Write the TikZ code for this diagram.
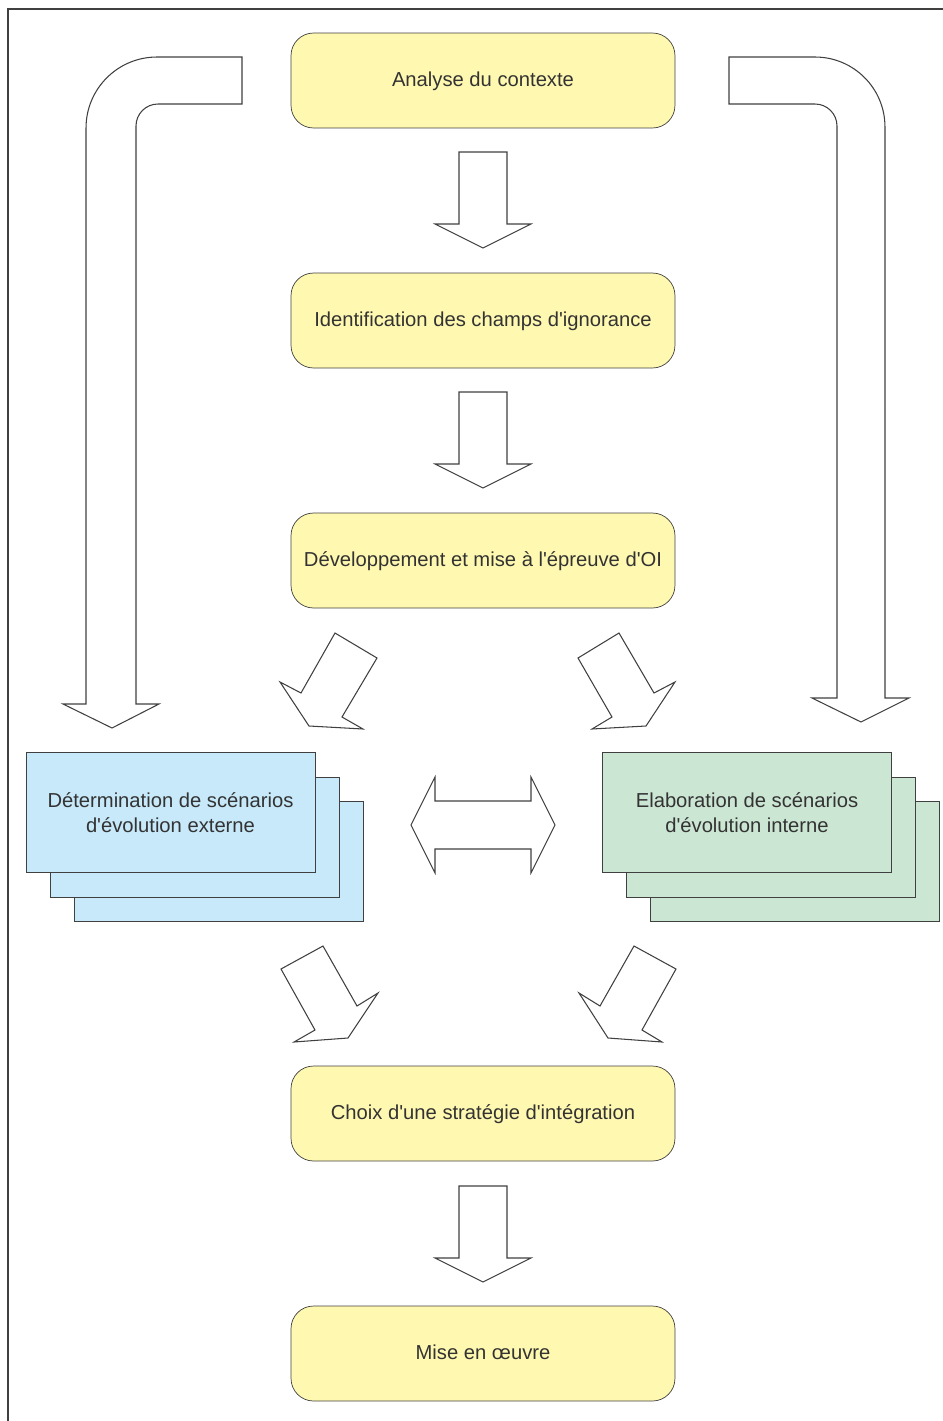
\documentclass[tikz,border=0pt]{standalone}
\usepackage{fontspec}
\setmainfont{Liberation Sans}
\usetikzlibrary{positioning}

\definecolor{stepYellow}{RGB}{255,248,176} % step boxes
\definecolor{extBlue}{RGB}{199,233,249}    % external scenarios
\definecolor{intGreen}{RGB}{204,230,212}   % internal scenarios
\definecolor{lineGray}{RGB}{64,64,64}
\definecolor{textGray}{RGB}{51,51,51}

\newcommand{\q}{\textquotesingle}

\begin{document}
\begin{tikzpicture}[x=0.02cm, y=-0.02cm, line join=miter]
  \useasboundingbox (0,0) rectangle (943,1421);

  \tikzset{
    stepbox/.style={
      draw=lineGray, fill=stepYellow, rounded corners=0.45cm,
      minimum width=7.68cm, minimum height=1.9cm, text=textGray,
      text height=0.91em, text depth=0.2em,
      font=\fontsize{11.5}{14}\selectfont, align=center
    },
    scenbox/.style={
      draw=lineGray, minimum width=5.78cm, minimum height=2.4cm,
      text=textGray, font=\fontsize{11.5}{14}\selectfont, align=center
    },
    blockarrow/.style={draw=lineGray, fill=white, line width=0.6pt}
  }

  % ==========================================
  % 1. FRAME
  % ==========================================
  \draw[lineGray, line width=1pt] (8,1421) -- (8,9) -- (943,9);

  % ==========================================
  % 2. MAIN STEPS
  % ==========================================
  \node[stepbox] (analyse)  at (483,80.5)   {Analyse du contexte};
  \node[stepbox] (ignor)    at (483,320.5)  {Identification des champs d\q ignorance};
  \node[stepbox] (devel)    at (483,560.5)  {Développement et mise à l\q épreuve d\q OI};
  \node[stepbox] (choix)    at (483,1113.5) {Choix d\q une stratégie d\q intégration};
  \node[stepbox] (oeuvre)   at (483,1353.5) {Mise en œuvre};

  % ==========================================
  % 3. SCENARIO STACKS (back to front)
  % ==========================================
  \node[scenbox, fill=extBlue] (extC) at (218.5,861) {};
  \node[scenbox, fill=extBlue] (extB) at (194.5,837) {};
  \node[scenbox, fill=extBlue] (ext)  at (170.5,812.5)
    {Détermination de scénarios\\d\q évolution externe};

  \node[scenbox, fill=intGreen] (intC) at (795,861) {};
  \node[scenbox, fill=intGreen] (intB) at (771,837) {};
  \node[scenbox, fill=intGreen] (int)  at (747,812.5)
    {Elaboration de scénarios\\d\q évolution interne};

  % ==========================================
  % 4. BLOCK ARROWS
  % ==========================================
  % straight arrows between steps
  \foreach \y in {152, 392, 1186} {
    \draw[blockarrow] (459,\y) -- (507,\y) -- (507,\y+72) -- (531,\y+72)
      -- (483,\y+96) -- (435,\y+72) -- (459,\y+72) -- cycle;
  }

  % diagonal arrows towards the scenarios
  \draw[blockarrow] (335,633) -- (377,658) -- (342,717) -- (363,729)
    -- (309,726) -- (280,682) -- (301,693) -- cycle;
  \draw[blockarrow] (619,633) -- (578,658) -- (612,717) -- (592,729)
    -- (646,726) -- (675,682) -- (654,693) -- cycle;

  % diagonal arrows towards the strategy
  \draw[blockarrow] (281,969) -- (323,946) -- (357,1006) -- (378,993)
    -- (348,1038) -- (294,1042) -- (315,1030) -- cycle;
  \draw[blockarrow] (676,969) -- (634,946) -- (600,1006) -- (579,993)
    -- (608,1038) -- (662,1042) -- (642,1030) -- cycle;

  % two-way arrow between scenarios
  \draw[blockarrow] (411,825) -- (435,777) -- (435,801) -- (531,801)
    -- (531,777) -- (555,825) -- (531,873) -- (531,849) -- (435,849)
    -- (435,873) -- cycle;

  % bent arrows from the context analysis
  \draw[blockarrow] (242,57) -- (157,57) arc[start angle=90, end angle=180, radius=1.42cm]
    -- (86,704) -- (63,704) -- (112,728) -- (159,704) -- (136,704)
    -- (136,126) arc[start angle=180, end angle=90, radius=0.44cm]
    -- (242,104) -- cycle;
  \draw[blockarrow] (729,57) -- (815,57) arc[start angle=90, end angle=0, radius=1.40cm]
    -- (885,698) -- (909,698) -- (861,722) -- (812,698) -- (837,698)
    -- (837,126) arc[start angle=0, end angle=90, radius=0.44cm]
    -- (729,104) -- cycle;

\end{tikzpicture}
\end{document}
